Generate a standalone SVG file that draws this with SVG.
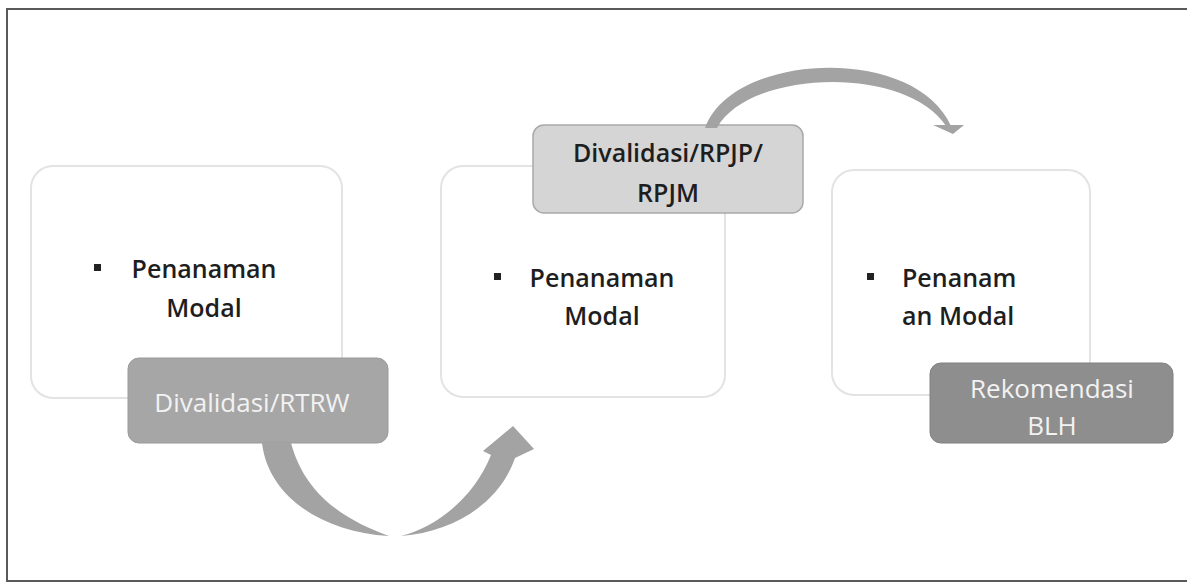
<svg xmlns="http://www.w3.org/2000/svg" width="1187" height="584" viewBox="0 0 1187 584">
  <style>
    .card { fill: #ffffff; stroke: #e3e3e3; stroke-width: 2; }
    .txt { font-family: "Open Sans", "Noto Sans", "DejaVu Sans", sans-serif; font-size: 25px; font-weight: 600; fill: #1e1e1e; }
    .mid { text-anchor: middle; }
    .bullet { fill: #222222; }
    .lbl-light { fill: #d5d5d5; stroke: #a9a9a9; stroke-width: 1.5; }
    .lbl-mid { fill: #a6a6a6; stroke: #9a9a9a; stroke-width: 1; }
    .lbl-dark { fill: #8e8e8e; stroke: #808080; stroke-width: 1; }
    .wtxt { fill: #f2f2f2; font-weight: 400; font-size: 26px; }
    .arrow { fill: #a3a3a3; }
  </style>

  <rect x="0" y="0" width="1187" height="584" fill="#ffffff"/>
  <g id="frame">
    <path d="M1187,9 H7 V581 H1187" fill="none" stroke="#5a5a5a" stroke-width="2"/>
  </g>

  <g id="box1">
    <rect class="card" x="31" y="166" width="311" height="232" rx="22"/>
    <rect class="bullet" x="94" y="264" width="7" height="7"/>
    <text class="txt mid" x="204" y="278">Penanaman</text>
    <text class="txt mid" x="204" y="317">Modal</text>
  </g>

  <g id="box2">
    <rect class="card" x="441" y="166" width="284" height="231" rx="22"/>
    <rect class="bullet" x="494" y="273" width="7" height="7"/>
    <text class="txt mid" x="602" y="287">Penanaman</text>
    <text class="txt mid" x="602" y="325">Modal</text>
  </g>

  <g id="box3">
    <rect class="card" x="832" y="170" width="258" height="225" rx="22"/>
    <rect class="bullet" x="867" y="273" width="7" height="7"/>
    <text class="txt" x="902" y="287">Penanam</text>
    <text class="txt" x="902" y="325">an Modal</text>
  </g>

  <g id="label-rtrw">
    <rect class="lbl-mid" x="128" y="358" width="260" height="85" rx="11"/>
    <text class="txt mid wtxt" x="252" y="412">Divalidasi/RTRW</text>
  </g>

  <g id="label-rpjp">
    <rect class="lbl-light" x="533" y="125" width="270" height="88" rx="11"/>
    <text class="txt mid" x="668" y="162" font-size="26">Divalidasi/RPJP/</text>
    <text class="txt mid" x="668" y="202" font-size="26">RPJM</text>
  </g>

  <g id="label-blh">
    <rect class="lbl-dark" x="930" y="363" width="243" height="80" rx="11"/>
    <text class="txt mid wtxt" x="1052" y="398">Rekomendasi</text>
    <text class="txt mid wtxt" x="1052" y="435">BLH</text>
  </g>

  <g id="connectors">
    <!-- top arc arrow from RPJP label to box3 -->
    <path class="arrow" d="M705,128 C732,52 915,44 951,126 L946,126 C905,64 748,70 717,128 Z"/>
    <polygon class="arrow" points="933,125 964,125 953,134"/>
    <!-- bottom U arrow from RTRW label to box2 -->
    <path class="arrow" d="M262,443 C268,495 320,532 389,536 C345,520 305,495 291,443 Z"/>
    <path class="arrow" d="M401,536 C440,526 475,495 491,455 L483,451 L513,426 L534,449 L515,458 C500,502 455,532 401,536 Z"/>
  </g>
</svg>
